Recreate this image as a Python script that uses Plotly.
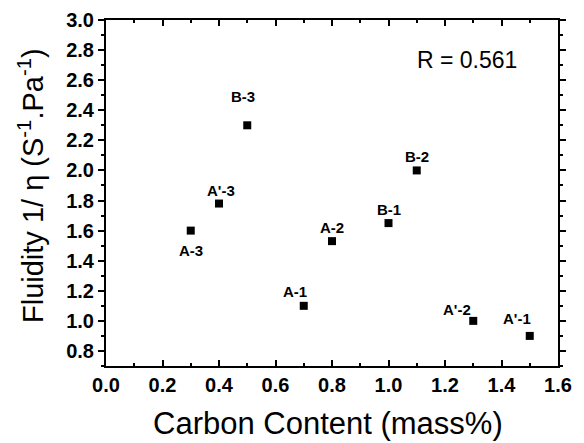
import plotly.graph_objects as go

carbon = [0.3, 0.4, 0.5, 0.7, 0.8, 1.0, 1.1, 1.3, 1.5]
fluidity = [1.60, 1.78, 2.30, 1.10, 1.53, 1.65, 2.00, 1.00, 0.90]
labels = ["A-3", "A'-3", "B-3", "A-1", "A-2", "B-1", "B-2", "A'-2", "A'-1"]

# pixel offsets of each point label from its marker (style only)
label_offsets = {
    "A-3": (0, -20), "A'-3": (2, 13), "B-3": (-4, 29), "A-1": (-9, 14),
    "A-2": (0, 14), "B-1": (0, 14), "B-2": (0, 14), "A'-2": (-16, 11), "A'-1": (-13, 17),
}

FONT = "Liberation Sans, Arial, sans-serif"

fig = go.Figure()
fig.add_trace(go.Scatter(
    x=carbon, y=fluidity, mode="markers",
    marker=dict(symbol="square", size=8, color="black"),
    showlegend=False, cliponaxis=False,
))

for cx, fy, lab in zip(carbon, fluidity, labels):
    dx, dy = label_offsets[lab]
    fig.add_annotation(x=cx, y=fy, xref="x", yref="y", text=lab, showarrow=False,
                       xshift=dx, yshift=dy,
                       font=dict(family=FONT, size=15, color="black", weight="bold"))

axis_common = dict(showgrid=False, zeroline=False, showline=True, linecolor="black",
                   linewidth=2, mirror="allticks", ticklen=6, tickwidth=1.5,
                   tickcolor="black", automargin=False,
                   tickfont=dict(family=FONT, size=20, color="black", weight="bold"))

fig.update_xaxes(range=[0, 1.6], tickvals=[0, 0.2, 0.4, 0.6, 0.8, 1.0, 1.2, 1.4, 1.6],
                 tickformat=".1f", ticks="inside",
                 minor=dict(ticks="inside", ticklen=3, dtick=0.1, tickcolor="black"),
                 **axis_common)
fig.update_yaxes(range=[0.7, 3.0], tickvals=[0.8, 1.0, 1.2, 1.4, 1.6, 1.8, 2.0, 2.2, 2.4, 2.6, 2.8, 3.0],
                 tickformat=".1f", ticks="outside",
                 minor=dict(ticks="outside", ticklen=3, dtick=0.1, tickcolor="black"),
                 **axis_common)

fig.add_annotation(x=0.491, y=-0.165, xref="paper", yref="paper",
                   text="Carbon Content (mass%)", showarrow=False,
                   xanchor="center", yanchor="middle",
                   font=dict(family=FONT, size=31, color="black"))

fig.add_annotation(x=-0.166, y=0.523, xref="paper", yref="paper",
                   text="Fluidity 1/ η (S<sup>-1</sup>.Pa<sup>-1</sup>)", textangle=-90,
                   showarrow=False, xanchor="center", yanchor="middle",
                   font=dict(family=FONT, size=29, color="black"))

fig.add_annotation(x=1.094, y=2.735, xref="x", yref="y", text="R = 0.561", showarrow=False,
                   xanchor="left", font=dict(family=FONT, size=23, color="black"))

fig.update_layout(width=584, height=443, margin=dict(l=106, r=26, t=20, b=77),
                  plot_bgcolor="white", paper_bgcolor="white")

fig.write_html("out.html")
